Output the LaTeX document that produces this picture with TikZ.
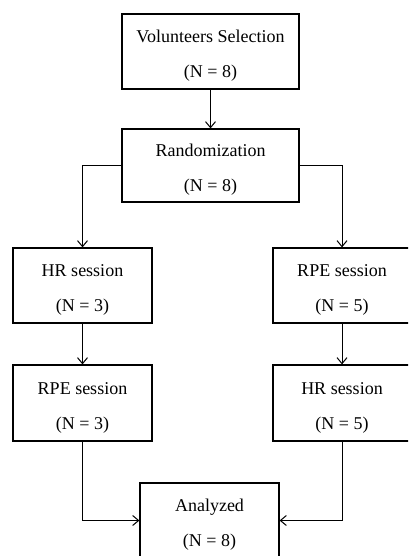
\documentclass[tikz,border=0pt]{standalone}
\usepackage{fontspec}
\setmainfont{Liberation Serif}
\usetikzlibrary{arrows.meta}
\newcommand{\stagetext}[2]{\rule{0pt}{21pt}#1\\#2}

\begin{document}
\begin{tikzpicture}[x=1pt,y=-1pt,
  stage/.style={draw,line width=1.2pt,align=center,inner sep=0pt,
    font=\fontsize{18}{35}\selectfont},
  flow/.style={line width=1pt,-{Straight Barb[length=6pt,width=10pt]}}]
  \clip (0,0) rectangle (408,556);
  \useasboundingbox (0,0) rectangle (408,556);
  % boxes
  \node[stage,minimum width=177pt,minimum height=75pt] (select) at (210.5,51.5) {\stagetext{Volunteers Selection}{(N = 8)}};
  \node[stage,minimum width=177pt,minimum height=73pt] (random) at (210.5,165.5) {\stagetext{Randomization}{(N = 8)}};
  \node[stage,minimum width=139pt,minimum height=75pt] (hrA) at (82.5,285.5) {\stagetext{HR session}{(N = 3)}};
  \node[stage,minimum width=138pt,minimum height=75pt] (rpeB) at (342,285.5) {\stagetext{RPE session}{(N = 5)}};
  \node[stage,minimum width=139pt,minimum height=76pt] (rpeA) at (82.5,403) {\stagetext{RPE session}{(N = 3)}};
  \node[stage,minimum width=138pt,minimum height=76pt] (hrB) at (342,403) {\stagetext{HR session}{(N = 5)}};
  \node[stage,minimum width=139pt,minimum height=75pt] (done) at (209.5,520.5) {\stagetext{Analyzed}{(N = 8)}};
  % connectors
  \draw[flow] (select) -- (random);
  \draw[flow] (random.west) -| (hrA);
  \draw[flow] (random.east) -| (rpeB);
  \draw[flow] (hrA) -- (rpeA);
  \draw[flow] (rpeB) -- (hrB);
  \draw[flow] (rpeA) |- (done.west);
  \draw[flow] (hrB) |- (done.east);
\end{tikzpicture}
\end{document}
